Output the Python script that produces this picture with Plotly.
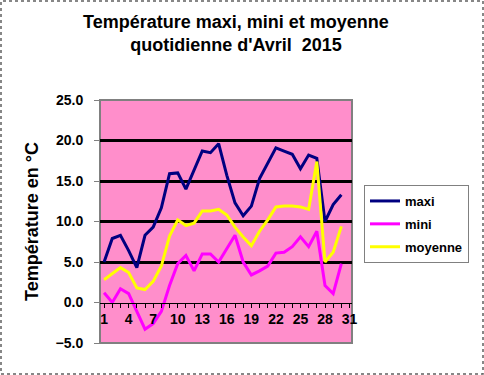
import plotly.graph_objects as go

days = list(range(1, 31))
maxi = [5.0, 7.9, 8.3, 6.4, 4.3, 8.3, 9.3, 11.7, 15.9, 16.0, 14.0, 16.3, 18.7, 18.5, 19.6,
        15.7, 12.3, 10.7, 11.9, 15.3, 17.2, 19.1, 18.7, 18.3, 16.5, 18.2, 17.8, 10.0, 12.1, 13.3]
mini = [1.2, 0.0, 1.7, 1.1, -1.1, -3.3, -2.6, -1.1, 2.1, 4.8, 5.8, 3.9, 6.0, 6.0, 5.0,
        6.6, 8.3, 5.0, 3.4, 3.9, 4.5, 6.1, 6.2, 6.9, 8.1, 6.9, 8.8, 2.1, 1.1, 4.8]
moyenne = [2.8, 3.5, 4.3, 3.7, 1.8, 1.6, 2.6, 4.5, 8.2, 10.2, 9.5, 9.8, 11.3, 11.3, 11.5,
           10.8, 9.3, 8.1, 7.0, 8.8, 10.2, 11.8, 11.9, 11.9, 11.8, 11.5, 17.4, 5.0, 6.2, 9.4]

series_names = ["maxi", "mini", "moyenne"]
series_colors = ["#000080", "#FF00FF", "#FFFF00"]

y_ticks = [-5, 0, 5, 10, 15, 20, 25]
grid_values = [5, 10, 15, 20, 25]
x_ticks = list(range(1, 32, 3))

W, H = 484, 375
ML, MR, MT, MB = 100, 132, 100, 32
PW, PH = W - ML - MR, H - MT - MB

FONT = "Liberation Sans, Arial, sans-serif"

fig = go.Figure()
for name, vals, col in zip(series_names, [maxi, mini, moyenne], series_colors):
    fig.add_trace(go.Scatter(x=days, y=vals, mode="lines", name=name,
                             line=dict(color=col, width=3), legendgroup=name))

# invisible trace on yaxis2 so its grid lines are drawn
fig.add_trace(go.Scatter(x=[days[0]], y=[maxi[0]], yaxis="y2", mode="markers",
                         marker=dict(opacity=0), showlegend=False, hoverinfo="skip"))

y_range = [-5, 25]
zero_pos = (0 - y_range[0]) / (y_range[1] - y_range[0])

fig.update_layout(
    width=W, height=H,
    margin=dict(l=ML, r=MR, t=MT, b=MB, autoexpand=False),
    paper_bgcolor="white",
    plot_bgcolor="#FF8ECB",
    font=dict(family=FONT, color="black"),
    title=dict(text="Température maxi, mini et moyenne<br>quotidienne d'Avril  2015",
               x=236 / W, xref="container", xanchor="center",
               y=1 - 28 / H, yref="container", yanchor="top",
               font=dict(size=18, weight="bold", family=FONT)),
    xaxis=dict(range=[0.5, 31.3], anchor="free", position=zero_pos,
               tickvals=x_ticks, ticks="outside", ticklen=4, tickcolor="black",
               showline=True, linecolor="black", linewidth=1,
               showgrid=False, zeroline=False,
               tickfont=dict(size=14, weight="bold", family=FONT),
               minor=dict(dtick=1, tick0=1, ticks="outside", ticklen=4, tickcolor="black", showgrid=False)),
    yaxis=dict(range=y_range, tickvals=y_ticks, tickformat=".1f",
               ticks="outside", ticklen=5, tickcolor="#808080",
               showgrid=False, zeroline=False, showline=False,
               tickfont=dict(size=14, weight="bold", family=FONT),
               ticklabelstandoff=8,
               title=dict(text="Température en °C", standoff=12,
                          font=dict(size=18, weight="bold", family=FONT))),
    yaxis2=dict(range=y_range, overlaying="y", tickvals=grid_values, showticklabels=False,
                showgrid=True, gridcolor="black", gridwidth=2.5, zeroline=False, showline=False),
    legend=dict(x=(364 - ML) / PW, xanchor="left", y=1 - (185 - MT) / PH, yanchor="top",
                bgcolor="white", bordercolor="#808080", borderwidth=1,
                font=dict(size=13, weight="bold", family=FONT),
                tracegroupgap=3, itemwidth=30),
    showlegend=True,
    shapes=[
        dict(type="rect", xref="paper", yref="paper", x0=0, x1=1, y0=0, y1=1,
             line=dict(color="#808080", width=2), layer="below"),
        dict(type="rect", xref="paper", yref="paper",
             x0=(1 - ML) / PW, x1=(W - 1 - ML) / PW,
             y0=-(MB - 1) / PH, y1=(H - 1 - MB) / PH,
             line=dict(color="#606060", width=1.5, dash="dot"), layer="above"),
    ],
)

fig.write_html("out.html", config={"displayModeBar": False},
               post_script="document.body.style.margin='0px';")
